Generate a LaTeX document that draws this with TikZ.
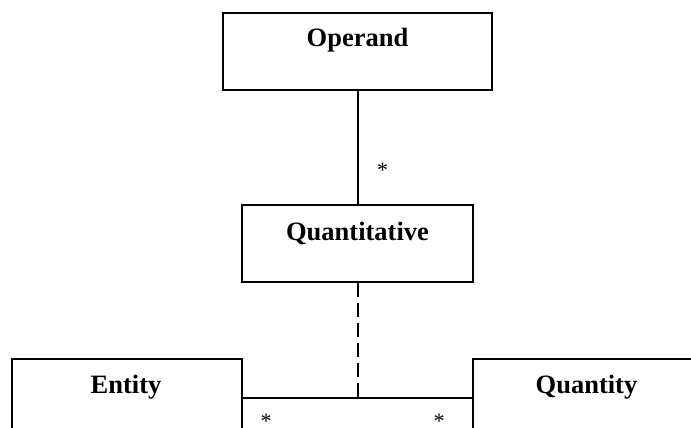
\documentclass[tikz,border=0pt]{standalone}
\usepackage{fontspec}
\setmainfont{Liberation Serif}
\begin{document}
\begin{tikzpicture}[x=1pt,y=-1pt,
  classbox/.style={draw, line width=2pt, rectangle, inner sep=0pt, anchor=north west},
  classname/.style={anchor=base, inner sep=0pt, font=\fontsize{26.5}{31}\selectfont\bfseries},
  assoc/.style={line width=2pt},
  realize/.style={line width=2pt, dash pattern=on 14pt off 6pt},
  mult/.style={inner sep=0pt, font=\fontsize{22}{26}\selectfont}]
\useasboundingbox (0,0) rectangle (691,428);
\clip (0,0) rectangle (691,428);

% class boxes
\node[classbox, minimum width=269pt, minimum height=77pt] (operand) at (222,12) {};
\node[classbox, minimum width=231pt, minimum height=77pt] (quant) at (241,204) {};
\node[classbox, minimum width=230pt, minimum height=78pt] (entity) at (11,358) {};
\node[classbox, minimum width=231pt, minimum height=78pt] (quantity) at (472,358) {};

% class names
\node[classname] (operandname) at ([yshift=-35pt]operand.north) {Operand};
\node[classname] (quantname) at ([yshift=-36pt]quant.north) {Quantitative};
\node[classname] (entityname) at ([xshift=-1pt,yshift=-35pt]entity.north) {Entity};
\node[classname] (quantityname) at ([xshift=-2pt,yshift=-35pt]quantity.north) {Quantity};

% associations
\draw[assoc] (operand.south) -- (quant.north);
\draw[assoc] (entity.east) -- (quantity.west);
\coordinate (joint) at (quant.south |- entity.east);
\draw[realize] (quant.south) -- (joint);

% multiplicities
\node[mult, anchor=base] (m1) at ([xshift=25pt,yshift=27pt]quant.north) {*};
\node[mult, anchor=base] (m2) at ([xshift=23pt,yshift=-30pt]entity.east) {*};
\node[mult, anchor=base] (m3) at ([xshift=-33pt,yshift=-30pt]quantity.west) {*};
\end{tikzpicture}
\end{document}
